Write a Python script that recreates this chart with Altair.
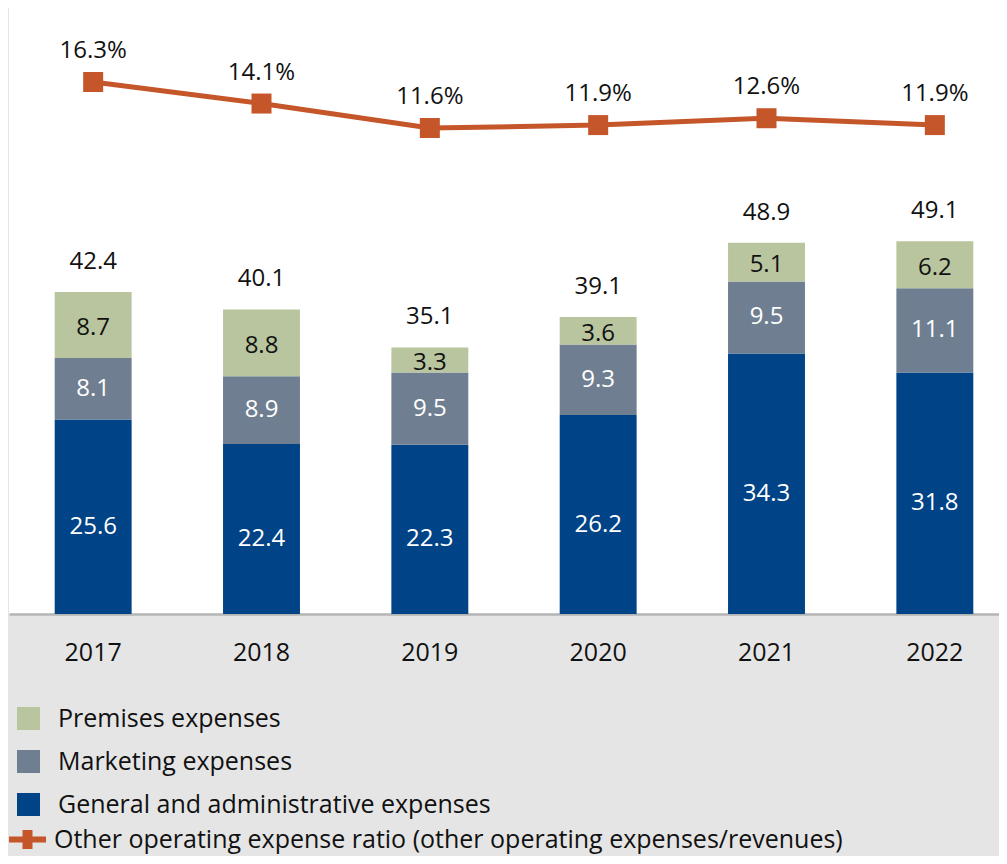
import altair as alt
import pandas as pd

years = ["2017", "2018", "2019", "2020", "2021", "2022"]
general = [25.6, 22.4, 22.3, 26.2, 34.3, 31.8]
marketing = [8.1, 8.9, 9.5, 9.3, 9.5, 11.1]
premises = [8.7, 8.8, 3.3, 3.6, 5.1, 6.2]
ratio = [16.3, 14.1, 11.6, 11.9, 12.6, 11.9]

cat_names = ["Premises expenses", "Marketing expenses", "General and administrative expenses"]
cat_colors = ["#b8c59e", "#6f7f91", "#004386"]
line_name = "Other operating expense ratio (other operating expenses/revenues)"
line_color = "#c5562a"
FONT = "Open Sans"

rows = []
for i, y in enumerate(years):
    rows.append({"year": y, "cat": cat_names[2], "value": general[i], "ord": 0})
    rows.append({"year": y, "cat": cat_names[1], "value": marketing[i], "ord": 1})
    rows.append({"year": y, "cat": cat_names[0], "value": premises[i], "ord": 2})
df = pd.DataFrame(rows)
tot = pd.DataFrame({"year": years,
                    "total": [round(g + m + p, 1) for g, m, p in zip(general, marketing, premises)]})
ldf = pd.DataFrame({"year": years, "ratio": ratio, "series": [line_name] * len(years)})

xscale = alt.Scale(domain=years, range=[0, 1010], paddingInner=0.543, paddingOuter=0.2715)
x = alt.X("year:N", scale=xscale,
          axis=alt.Axis(title=None, labelAngle=0, labelFont=FONT, labelFontSize=25,
                        labelColor="#111111", labelPadding=26, ticks=False,
                        domainColor="#b4b4b4", domainWidth=2.5))
yscale = alt.Scale(domain=[0, 79.8], nice=False, zero=True)

stacked = alt.Chart(df).transform_stack(
    stack="value", groupby=["year"], as_=["v0", "v1"], sort=[alt.SortField("ord")]
).transform_calculate(mid="(datum.v0 + datum.v1) / 2")

bars = stacked.mark_bar().encode(
    x=x,
    y=alt.Y("v0:Q", scale=yscale, axis=None),
    y2="v1:Q",
    color=alt.Color("cat:N", scale=alt.Scale(domain=cat_names, range=cat_colors),
                    legend=alt.Legend(title=None, orient="none", legendX=7, legendY=698,
                                      direction="vertical", symbolType="square",
                                      symbolSize=529, symbolStrokeWidth=0,
                                      labelFont=FONT, labelFontSize=25, labelColor="#111111",
                                      labelOffset=17, rowPadding=17, padding=0,
                                      labelLimit=1000)),
)

def seg_text(cat, color, dy):
    return stacked.transform_filter(alt.datum.cat == cat).mark_text(
        font=FONT, fontSize=24, color=color, dy=dy, baseline="middle"
    ).encode(x=alt.X("year:N", scale=xscale), y=alt.Y("mid:Q", scale=yscale),
             text=alt.Text("value:Q", format=".1f"))

t_gen = seg_text(cat_names[2], "white", 10)
t_mkt = seg_text(cat_names[1], "white", 0)
t_pre = seg_text(cat_names[0], "#111111", 3)

totals = alt.Chart(tot).mark_text(font=FONT, fontSize=24, color="#111111", dy=-30,
                                  baseline="middle").encode(
    x=alt.X("year:N", scale=xscale), y=alt.Y("total:Q", scale=yscale),
    text=alt.Text("total:Q", format=".1f"))

bar_layer = alt.layer(bars, t_gen, t_mkt, t_pre, totals)

rscale = alt.Scale(domain=[-38.04, 23.86], nice=False, zero=False)
lbase = alt.Chart(ldf).encode(x=alt.X("year:N", scale=xscale),
                              y=alt.Y("ratio:Q", scale=rscale, axis=None))
sym = "M-1,-0.16H-0.27V-0.51H0.27V-0.16H1V0.16H0.27V0.51H-0.27V0.16H-1Z"
lcolor = alt.Color("series:N", scale=alt.Scale(domain=[line_name], range=[line_color]),
                   legend=alt.Legend(title=None, orient="none", legendX=0, legendY=813,
                                     symbolType=sym, symbolSize=1369,
                                     symbolFillColor=line_color, symbolStrokeColor=line_color,
                                     symbolStrokeWidth=0, labelFont=FONT, labelFontSize=25,
                                     labelColor="#111111", labelOffset=8, padding=0,
                                     labelLimit=2000))
line = lbase.mark_line(strokeWidth=5).encode(color=lcolor)
pts = lbase.mark_point(shape="square", filled=True, size=400, opacity=1).encode(color=lcolor)
ptxt = lbase.transform_calculate(lab="format(datum.ratio, '.1f') + '%'").mark_text(
    font=FONT, fontSize=24, color="#111111", dy=-31, baseline="middle"
).encode(text="lab:N")
line_layer = alt.layer(line, pts, ptxt)

chart = alt.layer(bar_layer, line_layer).resolve_scale(
    y="independent", color="independent"
).properties(
    width=990, height=606,
    background="#e5e5e5",
    padding={"left": 1, "top": 0, "right": 0, "bottom": 242},
    autosize=alt.AutoSizeParams(type="none"),
).configure_view(fill="white", stroke=None)

chart.save("out.html", embed_options={"renderer": "svg", "actions": False})
